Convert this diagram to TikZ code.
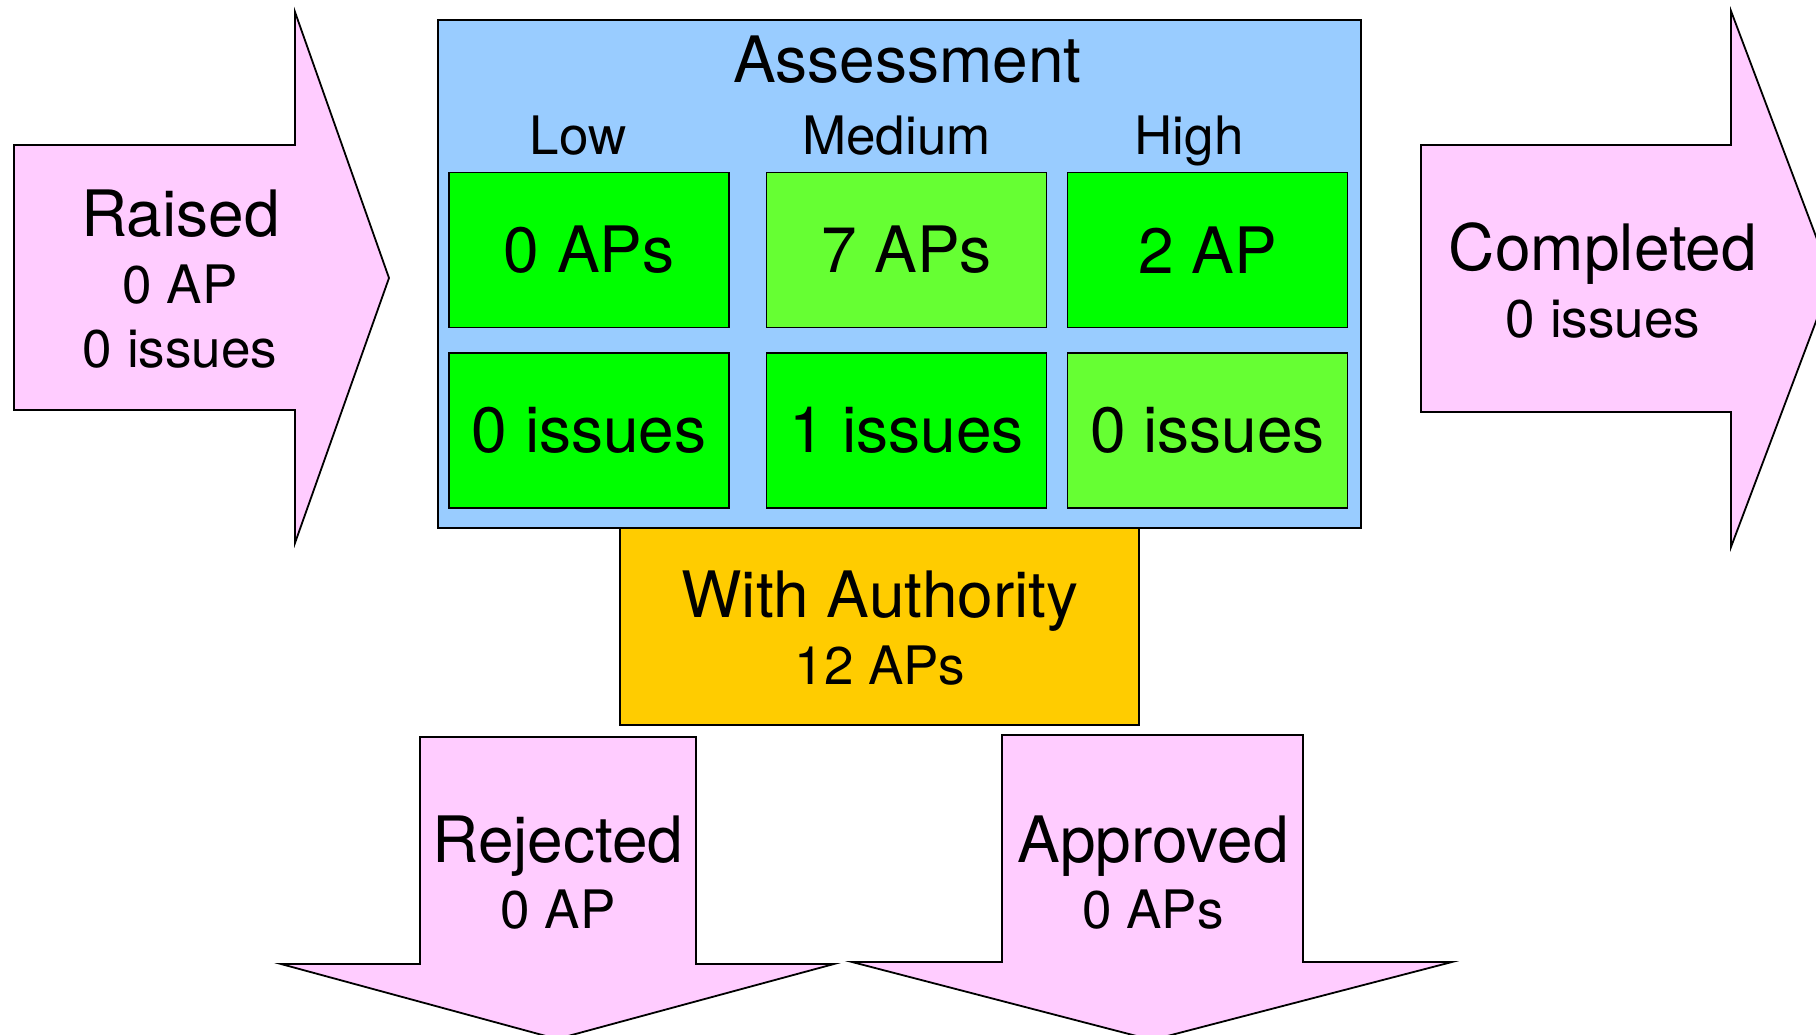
\documentclass[tikz,border=0pt]{standalone}
\usepackage{fontspec}
\setmainfont{TeX Gyre Heros}
\definecolor{pinkf}{HTML}{FFCCFF}
\definecolor{bluef}{HTML}{99CCFF}
\definecolor{greenA}{HTML}{00FF00}
\definecolor{greenB}{HTML}{66FF33}
\definecolor{orangef}{HTML}{FFCC00}
\begin{document}
\begin{tikzpicture}[x=1pt,y=-1pt,
  bigtxt/.style={font=\fontsize{64}{70}\selectfont, inner sep=0pt, anchor=base},
  smalltxt/.style={font=\fontsize{53}{60}\selectfont, inner sep=0pt, anchor=base},
  outl/.style={draw=black, line width=1.8pt, line join=miter},
  box/.style={outl, rectangle, inner sep=0pt},
  cell/.style={box, minimum width=280pt, minimum height=155pt, font=\fontsize{64}{70}\selectfont},
  arrowshape/.style={outl, fill=pinkf}]
\useasboundingbox (0,0) rectangle (1816,1035);
\clip (0,0) rectangle (1816,1035);

% Raised arrow
\draw[arrowshape] (14,145) -- (295,145) -- (295,12) -- (389,278) -- (295,543) -- (295,410) -- (14,410) -- cycle;
\node[bigtxt] (raised) at (180.5,237) {Raised};
\node[smalltxt] (raisedap) at (180,303) {0 AP};
\node[smalltxt] (raisediss) at (180,367) {0 issues};

% Completed arrow
\draw[arrowshape] (1421,145) -- (1731,145) -- (1731,11) -- (1832,279) -- (1731,547) -- (1731,412) -- (1421,412) -- cycle;
\node[bigtxt] (completed) at (1603,270) {Completed};
\node[smalltxt] (completediss) at (1603,337) {0 issues};

% Assessment box
\node[box, fill=bluef, minimum width=923pt, minimum height=508pt] (assess) at (899.5,274) {};
\node[bigtxt] (assesstitle) at (907.5,83) {Assessment};
\node[smalltxt] (low) at (578,155) {Low};
\node[smalltxt] (medium) at (896.5,155) {Medium};
\node[smalltxt] (high) at (1189,155) {High};

\node[cell, fill=greenA] (c11) at (589,250) {0 APs};
\node[cell, fill=greenB] (c12) at (906.5,250) {7 APs};
\node[cell, fill=greenA] (c13) at (1207.5,250) {2 AP};
\node[cell, fill=greenA] (c21) at (589,430.5) {0 issues};
\node[cell, fill=greenA] (c22) at (906.5,430.5) {1 issues};
\node[cell, fill=greenB] (c23) at (1207.5,430.5) {0 issues};

% With Authority
\node[box, fill=orangef, minimum width=519pt, minimum height=197pt] (auth) at (879.5,626.5) {};
\node[bigtxt] (authtitle) at (880,617) {With Authority};
\node[smalltxt] (authap) at (880,684) {12 APs};

% Rejected arrow
\draw[arrowshape] (420,737) -- (696,737) -- (696,964) -- (834,964) -- (557,1039) -- (281,964) -- (420,964) -- cycle;
\node[bigtxt] (rejected) at (558,862) {Rejected};
\node[smalltxt] (rejectedap) at (558,928) {0 AP};

% Approved arrow
\draw[arrowshape] (1002,735) -- (1303,735) -- (1303,962) -- (1452,962) -- (1152,1040) -- (852,962) -- (1002,962) -- cycle;
\node[bigtxt] (approved) at (1153,862) {Approved};
\node[smalltxt] (approvedap) at (1153,928) {0 APs};
\end{tikzpicture}
\end{document}
